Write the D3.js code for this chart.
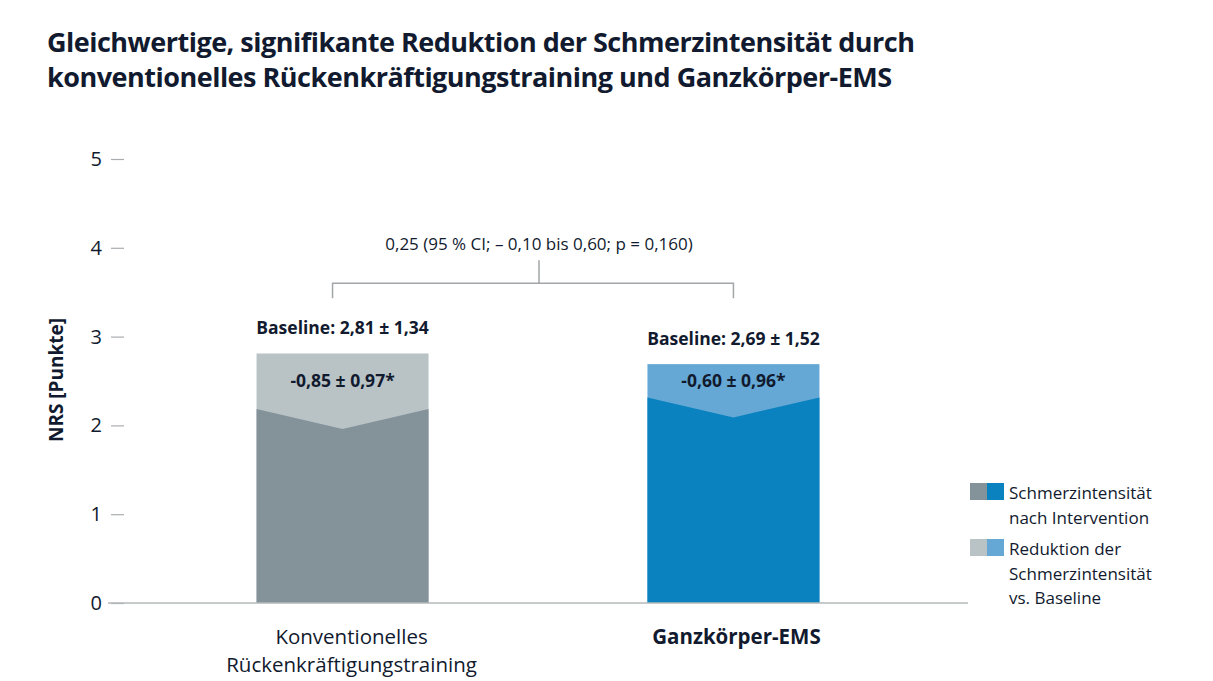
<!DOCTYPE html>
<html>
<head>
<meta charset="utf-8">
<script src="https://cdn.jsdelivr.net/npm/d3@7"></script>
<style>
  body { margin: 0; background: #fff; }
  svg { display: block; font-family: "Open Sans", "Noto Sans", sans-serif; }
</style>
</head>
<body>
<div id="chart"></div>
<script>
// data
var categories = ["Konventionelles Rückenkräftigungstraining", "Ganzkörper-EMS"];
var categoryLines = [["Konventionelles", "Rückenkräftigungstraining"], ["Ganzkörper-EMS"]];
var baseline = [2.81, 2.69];
var reduction = [0.85, 0.60];
var baselineLabels = ["Baseline: 2,81 ± 1,34", "Baseline: 2,69 ± 1,52"];
var reductionLabels = ["-0,85 ± 0,97*", "-0,60 ± 0,96*"];
var yTicks = [0, 1, 2, 3, 4, 5];
var comparisonLabel = "0,25 (95 % CI; – 0,10 bis 0,60; p = 0,160)";
var titleLines = [
  "Gleichwertige, signifikante Reduktion der Schmerzintensität durch",
  "konventionelles Rückenkräftigungstraining und Ganzkörper-EMS"
];
var legendItems = [
  { lines: ["Schmerzintensität", "nach Intervention"], colors: ["#84929a", "#0a82c0"] },
  { lines: ["Reduktion der", "Schmerzintensität", "vs. Baseline"], colors: ["#b9c3c6", "#65a8d5"] }
];

var darkColors = ["#84929a", "#0a82c0"];
var lightColors = ["#b9c3c6", "#65a8d5"];
var textColor = "#111a2e";

var width = 1213, height = 681;

var svg = d3.select("#chart")
  .append("svg")
  .attr("width", width)
  .attr("height", height);

// title
svg.append("g")
  .selectAll("text")
  .data(titleLines)
  .enter()
  .append("text")
  .attr("x", 47)
  .attr("y", function (d, i) { return 52 + i * 35; })
  .style("font-size", "27px")
  .style("font-weight", "700")
  .style("letter-spacing", "-0.5px")
  .style("fill", textColor)
  .text(function (d) { return d; });

var x = d3.scaleBand()
  .domain(categories)
  .range([108, 968])
  .paddingInner(0.56)
  .paddingOuter(0.38);

var y = d3.scaleLinear()
  .domain([0, 5])
  .range([603, 159]);

// y axis ticks (no domain line)
var yAxis = svg.append("g")
  .attr("transform", "translate(124,0)")
  .call(d3.axisLeft(y).tickValues(yTicks).tickSize(13).tickPadding(9).tickFormat(d3.format("d")));
yAxis.select(".domain").remove();
yAxis.selectAll(".tick line").attr("stroke", "#a9adb0").attr("stroke-width", 1.2);
yAxis.selectAll(".tick text")
  .style("font-size", "20px")
  .style("font-family", "'Open Sans', sans-serif")
  .style("fill", textColor);

// y axis title
svg.append("text")
  .attr("transform", "translate(63,380) rotate(-90)")
  .attr("text-anchor", "middle")
  .style("font-size", "19px")
  .style("font-weight", "700")
  .style("fill", textColor)
  .text("NRS [Punkte]");

var bars = svg.append("g")
  .selectAll("g")
  .data(categories)
  .enter()
  .append("g");

// light part: whole baseline height
bars.append("rect")
  .attr("x", function (d) { return x(d); })
  .attr("width", x.bandwidth())
  .attr("y", function (d, i) { return y(baseline[i]); })
  .attr("height", function (d, i) { return y(0) - y(baseline[i]); })
  .style("fill", function (d, i) { return lightColors[i]; });

// dark part: value after intervention, chevron top
var notch = 20;
bars.append("path")
  .attr("d", function (d, i) {
    var x0 = x(d), x1 = x(d) + x.bandwidth(), xm = x(d) + x.bandwidth() / 2;
    var dip = y(baseline[i] - reduction[i]);
    return "M" + x0 + "," + y(0) +
      "L" + x0 + "," + (dip - notch) +
      "L" + xm + "," + dip +
      "L" + x1 + "," + (dip - notch) +
      "L" + x1 + "," + y(0) + "Z";
  })
  .style("fill", function (d, i) { return darkColors[i]; });

// reduction labels, centred in the light band
bars.append("text")
  .attr("x", function (d) { return x(d) + x.bandwidth() / 2; })
  .attr("y", function (d, i) {
    var top = y(baseline[i]);
    var side = y(baseline[i] - reduction[i]) - notch;
    return (top + side) / 2 + 6;
  })
  .attr("text-anchor", "middle")
  .style("font-size", "17.5px")
  .style("font-weight", "700")
  .style("fill", textColor)
  .text(function (d, i) { return reductionLabels[i]; });

// baseline labels above the bars
bars.append("text")
  .attr("x", function (d) { return x(d) + x.bandwidth() / 2; })
  .attr("y", function (d, i) { return y(baseline[i]) - 19; })
  .attr("text-anchor", "middle")
  .style("font-size", "17.5px")
  .style("font-weight", "700")
  .style("fill", textColor)
  .text(function (d, i) { return baselineLabels[i]; });

// x axis line
svg.append("line")
  .attr("x1", x.range()[0])
  .attr("x2", x.range()[1])
  .attr("y1", y(0))
  .attr("y2", y(0))
  .attr("stroke", "#b5b8ba")
  .attr("stroke-width", 1.5);

// category labels (sit a little right of the bar centre in the original)
var labelShift = [9, 3];
bars.append("text")
  .attr("text-anchor", "middle")
  .style("font-size", "20.5px")
  .style("font-weight", function (d, i) { return i === 1 ? "700" : "400"; })
  .style("fill", textColor)
  .selectAll("tspan")
  .data(function (d, i) { return categoryLines[i].map(function (l) { return { line: l, cat: d, k: i }; }); })
  .enter()
  .append("tspan")
  .attr("x", function (d) { return x(d.cat) + x.bandwidth() / 2 + labelShift[d.k]; })
  .attr("y", function (d, j) { return 644 + j * 28; })
  .text(function (d) { return d.line; });

// comparison bracket
var bx0 = x(categories[0]) + x.bandwidth() / 2 - 10;
var bx1 = x(categories[1]) + x.bandwidth() / 2;
var by = y(3.6);
var bmid = 539;
svg.append("path")
  .attr("d", "M" + bx0 + "," + (by + 15) + "V" + by + "H" + bx1 + "V" + (by + 15) +
    "M" + bmid + "," + by + "V" + (by - 23))
  .attr("fill", "none")
  .attr("stroke", "#a3a6a8")
  .attr("stroke-width", 1.5);

svg.append("text")
  .attr("x", bmid)
  .attr("y", 250)
  .attr("text-anchor", "middle")
  .style("font-size", "17px")
  .style("fill", textColor)
  .text(comparisonLabel);

// legend
var legend = svg.append("g")
  .selectAll("g")
  .data(legendItems)
  .enter()
  .append("g")
  .attr("transform", function (d, i) { return "translate(970," + (483 + i * 56) + ")"; });

legend.selectAll("rect")
  .data(function (d) { return d.colors; })
  .enter()
  .append("rect")
  .attr("x", function (d, j) { return j * 17; })
  .attr("width", 17)
  .attr("height", 17)
  .style("fill", function (d) { return d; });

legend.append("text")
  .style("font-size", "17px")
  .style("fill", textColor)
  .selectAll("tspan")
  .data(function (d) { return d.lines; })
  .enter()
  .append("tspan")
  .attr("x", 39)
  .attr("y", function (d, j) { return 16 + j * 24.5; })
  .text(function (d) { return d; });
</script>
</body>
</html>
